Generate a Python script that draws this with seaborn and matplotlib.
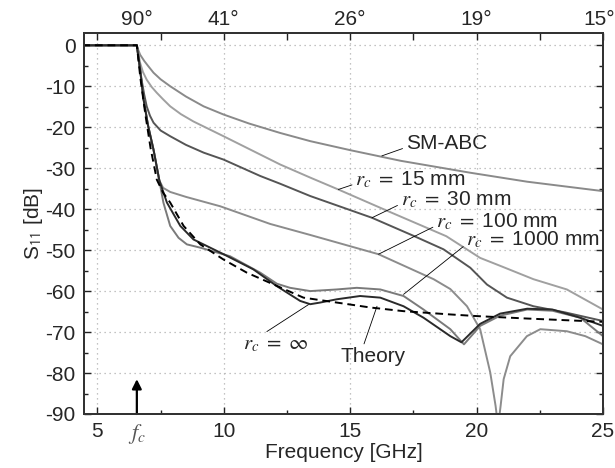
import matplotlib
matplotlib.use("Agg")
import matplotlib.pyplot as plt
from matplotlib.ticker import MultipleLocator, FixedLocator
from matplotlib.transforms import ScaledTranslation
import pandas as pd
import seaborn as sns

# waveguide cutoff frequency [GHz]
FC = 6.56

sm_abc_f = [4.4, 6.56, 6.62, 6.69, 6.85, 7.0, 7.22, 7.5, 7.88, 8.5, 9.2, 9.99, 11.0, 12.23, 13.42, 15.0, 17.0, 19.74, 22.0, 25.0]
sm_abc_db = [0, 0, -1.2, -2.3, -3.8, -5.0, -6.7, -8.3, -10.0, -12.5, -14.9, -16.9, -19.1, -21.4, -23.4, -25.6, -28.2, -31.1, -33.3, -35.6]

rc15_f = [4.4, 6.56, 6.62, 6.69, 6.8, 6.95, 7.15, 7.35, 7.6, 7.88, 8.3, 8.8, 9.99, 12.23, 13.42, 14.53, 16.5, 18.8, 20.14, 21.0, 22.25, 23.57, 25.0]
rc15_db = [0, 0, -2.0, -4.3, -6.5, -8.4, -10.2, -11.6, -13.2, -14.9, -16.8, -18.6, -22.2, -29.1, -32.3, -35.2, -40.5, -46.6, -51.9, -54.0, -57.1, -59.6, -64.5]

rc30_f = [4.4, 6.56, 6.65, 6.75, 6.85, 6.95, 7.08, 7.22, 7.5, 7.88, 8.5, 9.2, 9.99, 11.44, 12.23, 13.42, 15.86, 17.5, 18.69, 19.75, 20.41, 21.2, 22.25, 23.5, 25.0]
rc30_db = [0, 0, -4.0, -8.5, -12.0, -14.9, -17.2, -18.9, -20.8, -22.2, -24.3, -26.2, -27.9, -31.9, -33.8, -36.8, -42.1, -46.5, -49.8, -54.3, -58.4, -61.6, -63.7, -65.2, -67.3]

rc100_f = [4.4, 6.56, 6.7, 6.82, 7.0, 7.22, 7.45, 7.6, 7.88, 8.5, 9.86, 11.83, 13.42, 16.12, 18.3, 18.96, 19.62, 20.14, 20.54, 20.75, 20.85, 20.95, 21.07, 21.33, 21.99, 22.52, 23.57, 24.3, 25.0]
rc100_db = [0, 0, -6.5, -13.0, -19.5, -25.5, -33.0, -34.8, -35.8, -37.0, -39.3, -43.6, -46.3, -51.0, -57.1, -59.5, -63.7, -69.3, -79.9, -88.0, -93.0, -88.0, -81.5, -75.9, -71.0, -69.3, -69.8, -71.0, -73.0]

rc1000_f = [4.4, 6.56, 6.7, 6.82, 7.0, 7.22, 7.45, 7.61, 7.88, 8.21, 8.54, 9.07, 10.25, 11.44, 12.1, 12.62, 13.42, 14.47, 15.26, 16.19, 17.11, 17.9, 18.96, 19.5, 20.14, 20.93, 22.0, 23.0, 24.1, 25.0]
rc1000_db = [0, 0, -6.5, -13.0, -19.5, -25.5, -33.0, -38.4, -44.1, -47.0, -48.6, -49.4, -51.5, -55.5, -58.2, -59.2, -60.0, -59.6, -59.2, -59.6, -61.2, -64.5, -69.3, -73.0, -68.5, -66.0, -64.5, -64.8, -66.5, -71.0]

rcinf_f = [4.4, 6.56, 6.7, 6.82, 7.0, 7.22, 7.45, 7.75, 8.28, 8.8, 9.99, 11.17, 12.1, 13.02, 13.42, 13.81, 14.47, 15.39, 16.19, 17.11, 17.9, 18.96, 19.4, 20.14, 20.93, 22.0, 23.0, 24.1, 25.0]
rcinf_db = [0, 0, -6.5, -13.0, -19.5, -25.5, -33.0, -38.4, -44.1, -47.4, -51.0, -54.7, -58.8, -62.4, -63.2, -62.8, -62.0, -61.2, -61.6, -63.7, -66.5, -71.0, -72.5, -68.0, -65.5, -64.3, -64.5, -66.5, -68.5]

theory_f = [4.4, 6.56, 6.7, 6.9, 7.1, 7.35, 7.6, 7.88, 8.41, 9.07, 9.99, 10.91, 11.83, 13.15, 14.47, 15.79, 17.11, 18.96, 20.0, 22.0, 25.0]
theory_db = [0, 0, -8.0, -17.0, -25.0, -32.8, -36.0, -38.4, -44.1, -48.6, -52.3, -55.5, -58.0, -61.6, -62.8, -64.0, -64.9, -65.7, -66.1, -66.7, -67.5]

curves = {
    "SM-ABC": (sm_abc_f, sm_abc_db),
    "rc15": (rc15_f, rc15_db),
    "rc30": (rc30_f, rc30_db),
    "rc100": (rc100_f, rc100_db),
    "rc1000": (rc1000_f, rc1000_db),
    "rcinf": (rcinf_f, rcinf_db),
    "Theory": (theory_f, theory_db),
}
palette = {
    "SM-ABC": "#8a8a8a",
    "rc15": "#a0a0a0",
    "rc30": "#555555",
    "rc100": "#8c8c8c",
    "rc1000": "#7a7a7a",
    "rcinf": "#2a2a2a",
    "Theory": "#000000",
}
dashes = {k: "" for k in curves}
dashes["Theory"] = (4, 2.5)

top_pos = [FC, 10, 15, 20, 25]
top_labels = ["90°", "41°", "26°", "19°", "15°"]

df = pd.concat(
    [pd.DataFrame({"f": f, "s11": s, "curve": name}) for name, (f, s) in curves.items()],
    ignore_index=True,
)

sns.set_theme(style="ticks")
plt.rcParams["font.family"] = ["Liberation Sans", "DejaVu Sans"]
plt.rcParams["mathtext.fontset"] = "stix"
plt.rcParams["axes.unicode_minus"] = False
FS = 15

fig = plt.figure(figsize=(6.15, 4.68), dpi=100)
ax = fig.add_axes([0.1366, 0.1154, 0.8439, 0.8141])

sns.lineplot(
    data=df, x="f", y="s11", hue="curve", style="curve",
    palette=palette, dashes=dashes, estimator=None, errorbar=None,
    sort=False, linewidth=1.4, legend=False, ax=ax,
)

ax.set_xlim(4.47, 25)
ax.set_ylim(-90, 3)
ax.xaxis.set_major_locator(FixedLocator([5, 10, 15, 20, 25]))
ax.xaxis.set_minor_locator(FixedLocator([7.5, 12.5, 17.5, 22.5]))
ax.yaxis.set_major_locator(MultipleLocator(10))
ax.yaxis.set_minor_locator(MultipleLocator(5))
ax.grid(True, which="major", color="#b0b0b0", linestyle=(0, (1, 3)), linewidth=0.9)
ax.tick_params(which="both", direction="in", right=True, top=False,
               labelsize=FS, width=1.0, color="#222222")
ax.tick_params(which="major", length=5, pad=6)
ax.tick_params(which="minor", length=3)
for sp in ax.spines.values():
    sp.set_linewidth(1.4)
    sp.set_color("#333333")

ax.set_xlabel("Frequency [GHz]", fontsize=FS, labelpad=1)
ax.set_ylabel(r"S$_{\mathsf{11}}$ [dB]", fontsize=FS, labelpad=0)

# cutoff marker under the axis
ax.text(FC, -92.0, r"$f_c$", fontsize=FS + 1, ha="center", va="top", color="#555555")
ax.annotate("", xy=(FC, -81.5), xytext=(FC, -90),
            arrowprops=dict(arrowstyle="-|>", color="black", lw=1.6,
                            mutation_scale=14, shrinkA=0, shrinkB=0))

# incidence angle axis on top
top = ax.twiny()
top.set_xlim(ax.get_xlim())
top.xaxis.set_major_locator(FixedLocator(top_pos))
top.set_xticklabels(top_labels)
top.xaxis.set_minor_locator(FixedLocator([5, 7.5, 12.5, 17.5, 22.5]))
top.tick_params(which="both", direction="in", labelsize=FS, width=1.0, color="#222222", pad=3)
top.tick_params(which="major", length=5)
top.tick_params(which="minor", length=5)
top.xaxis.get_major_ticks()[0].tick2line.set_visible(False)
last = top.get_xticklabels()[-1]
last.set_transform(last.get_transform() + ScaledTranslation(-3 / 72, 0, fig.dpi_scale_trans))
for sp in top.spines.values():
    sp.set_linewidth(1.4)
    sp.set_color("#333333")
top.grid(False)

# curve labels with leader lines
lead = dict(arrowstyle="-", color="black", lw=0.6, shrinkA=0, shrinkB=0)
labels = [
    ("SM-ABC", (16.25, -27.0), (17.2, -24.0)),
    (r"$r_c\ =\ $15 mm", (14.53, -35.2), (15.2, -32.8)),
    (r"$r_c\ =\ $30 mm", (15.86, -42.1), (17.0, -37.7)),
    (r"$r_c\ =\ $100 mm", (16.12, -51.0), (18.4, -43.0)),
    (r"$r_c\ =\ $1000 mm", (17.11, -60.8), (19.6, -47.5)),
]
for txt, xy, xyt in labels:
    ax.annotate(txt, xy=xy, xytext=xyt, fontsize=FS, ha="left", va="center",
                arrowprops=dict(lead, relpos=(0, 0.3)))
ax.annotate(r"$r_c\ =\ \infty$", xy=(13.35, -63.3), xytext=(10.75, -73.0), fontsize=FS,
            ha="left", va="center", arrowprops=dict(lead, relpos=(0.2, 0.8)))
ax.annotate("Theory", xy=(16.06, -63.7), xytext=(14.6, -76.0), fontsize=FS,
            ha="left", va="center", arrowprops=dict(lead, relpos=(0.35, 1.0)))

fig.savefig("out.png", dpi=100)
